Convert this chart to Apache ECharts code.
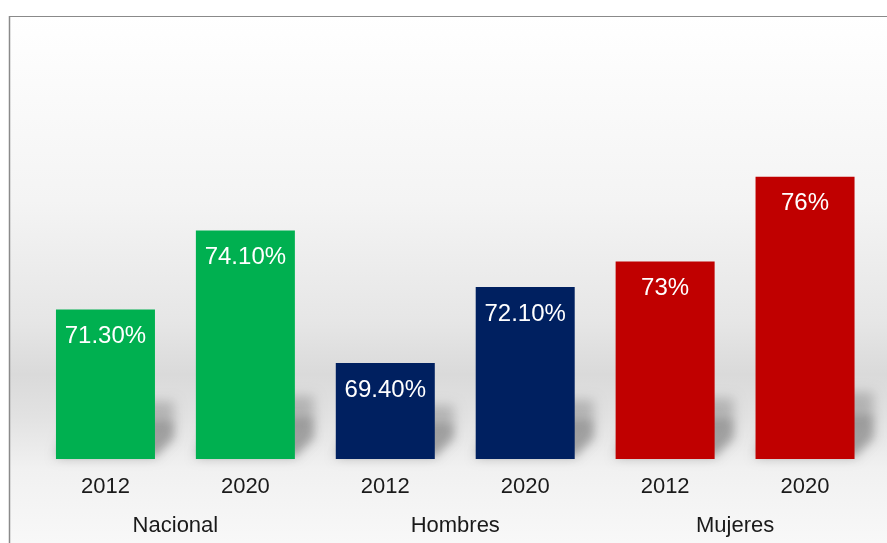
<!DOCTYPE html>
<html>
<head>
<meta charset="utf-8">
<script src="https://cdn.jsdelivr.net/npm/echarts@6/dist/echarts.min.js"></script>
<style>
  html, body { margin: 0; padding: 0; background: #ffffff; }
  #chart { width: 887px; height: 543px; }
</style>
</head>
<body>
<div id="chart"></div>
<script>
// Years under each bar, grouped by population
const years = ['2012', '2020', '2012', '2020', '2012', '2020'];
const groups = ['Nacional', 'Hombres', 'Mujeres'];
const values = [71.3, 74.1, 69.4, 72.1, 73, 76];
// Decimals shown in each bar's label
const labelDecimals = [2, 2, 2, 2, 0, 0];
const groupColors = ['#00B050', '#002060', '#C00000'];

const AXIS_MIN = 66;
const AXIS_MAX = 80;
const FONT = '"Liberation Sans", Arial, sans-serif';
// Shapes are drawn off-canvas; only their blurred shadow lands in the chart
const SHIFT = 3000;

const chart = echarts.init(document.getElementById('chart'), null, { renderer: 'canvas' });

// Soft floor shadow behind each bar, pushed to the right of its base
function renderShadow(params, api) {
  const idx = api.value(0);
  const val = api.value(1);
  const top = api.coord([idx, val]);
  const base = api.coord([idx, AXIS_MIN]);
  const w = 99;
  const x0 = base[0] - w / 2 - SHIFT;
  const x1 = base[0] + w / 2 - SHIFT;
  const h = base[1] - top[1];
  const sh = 45 + 0.07 * h;
  const s = 19;
  const yb = base[1] - 2;
  const yt = yb - sh;
  const part = (ytop, alpha, blur) => ({
    type: 'polygon',
    shape: {
      points: [[x0, yb], [x1, yb], [x1 + s, yb - s], [x1 + s, ytop], [x0 + s, ytop]]
    },
    style: {
      fill: '#000',
      shadowBlur: blur,
      shadowOffsetX: SHIFT,
      shadowColor: 'rgba(0,0,0,' + alpha + ')'
    }
  });
  return {
    type: 'group',
    children: [part(yt, 0.2, 12), part(yt + sh * 0.35, 0.14, 8)]
  };
}

const option = {
  animation: false,
  graphic: [
    {
      type: 'rect', z: -10, silent: true,
      shape: { x: 9, y: 16, width: 878, height: 527 },
      style: {
        fill: {
          type: 'linear', x: 0, y: 0, x2: 0, y2: 1,
          colorStops: [
            { offset: 0, color: '#ffffff' },
            { offset: 0.35, color: '#f4f4f4' },
            { offset: 0.58, color: '#e6e6e6' },
            { offset: 0.68, color: '#dadada' },
            { offset: 0.76, color: '#e2e2e2' },
            { offset: 0.86, color: '#f1f1f1' },
            { offset: 1, color: '#f8f8f8' }
          ]
        }
      }
    },
    {
      type: 'line', z: 10, silent: true,
      shape: { x1: 9, y1: 16.5, x2: 887, y2: 16.5 },
      style: { stroke: '#8a8a8a', lineWidth: 1 }
    },
    {
      type: 'line', z: 10, silent: true,
      shape: { x1: 9.5, y1: 16, x2: 9.5, y2: 543 },
      style: { stroke: '#8a8a8a', lineWidth: 1.5 }
    }
  ],
  grid: { left: 35.5, right: 12, top: 64, bottom: 84 },
  xAxis: [
    {
      type: 'category',
      data: years,
      axisLine: { show: false },
      axisTick: { show: false },
      axisLabel: { color: '#1a1a1a', fontSize: 22, fontFamily: FONT, margin: 17, interval: 0 }
    },
    {
      type: 'category',
      position: 'bottom',
      data: groups,
      axisLine: { show: false },
      axisTick: { show: false },
      axisLabel: { color: '#1a1a1a', fontSize: 22, fontFamily: FONT, margin: 56, interval: 0 }
    }
  ],
  yAxis: {
    type: 'value',
    min: AXIS_MIN,
    max: AXIS_MAX,
    show: false,
    splitLine: { show: false }
  },
  series: [
    {
      type: 'custom',
      xAxisIndex: 0,
      renderItem: renderShadow,
      data: values.map((v, i) => [i, v]),
      clip: false,
      z: 1,
      silent: true
    },
    {
      type: 'bar',
      xAxisIndex: 0,
      barWidth: 99,
      z: 5,
      data: values.map((v, i) => ({
        value: v,
        itemStyle: { color: groupColors[Math.floor(i / 2)] }
      })),
      label: {
        show: true,
        position: 'insideTop',
        distance: 15,
        color: '#ffffff',
        fontSize: 24,
        fontFamily: FONT,
        formatter: p => p.value.toFixed(labelDecimals[p.dataIndex]) + '%'
      }
    }
  ]
};

chart.setOption(option);
</script>
</body>
</html>
